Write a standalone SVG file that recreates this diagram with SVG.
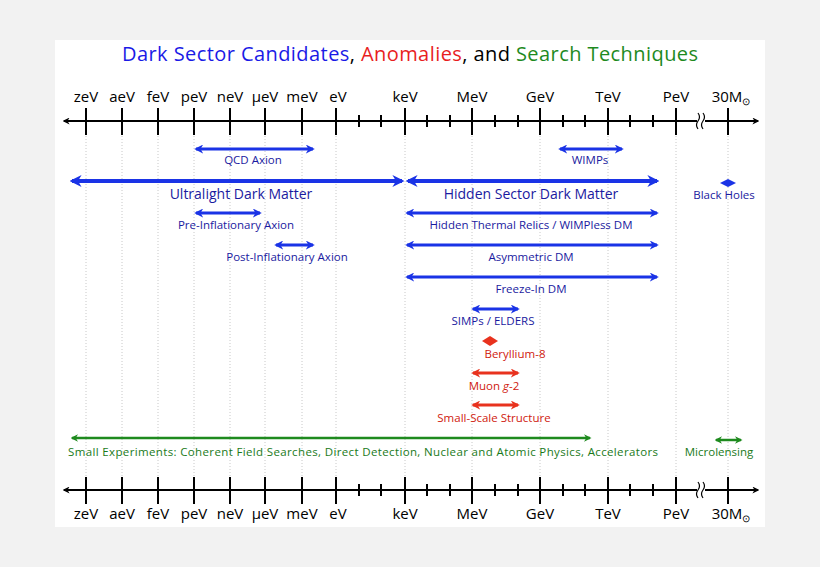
<svg xmlns="http://www.w3.org/2000/svg" width="820" height="567" viewBox="0 0 820 567">
<defs>
<marker id="ab" viewBox="0 0 10 10" refX="8" refY="5" markerWidth="3" markerHeight="3" orient="auto-start-reverse"><path d="M0,0L10,5L0,10L3,5z" fill="#1a33e6"/></marker>
<marker id="ar" viewBox="0 0 10 10" refX="8" refY="5" markerWidth="3" markerHeight="3" orient="auto-start-reverse"><path d="M0,0L10,5L0,10L3,5z" fill="#e8321e"/></marker>
<marker id="ag" viewBox="0 0 10 10" refX="8" refY="5" markerWidth="3" markerHeight="3" orient="auto-start-reverse"><path d="M0,0L10,5L0,10L3,5z" fill="#1e8a1e"/></marker>
<marker id="ak" viewBox="0 0 10 10" refX="8" refY="5" markerWidth="3.5" markerHeight="3.5" orient="auto-start-reverse"><path d="M0,0L10,5L0,10L3,5z" fill="#000"/></marker>
</defs>
<style>
text{font-family:"Open Sans","Liberation Sans",sans-serif}
.ax{font-size:15px;fill:#000;text-anchor:middle}
.lb{font-size:11.5px;fill:#1a1aa0;text-anchor:middle}
.big{font-size:14px}
.lr{font-size:11.5px;fill:#d0200e;text-anchor:middle}
.lg{font-size:11.5px;fill:#1a7a1a;text-anchor:middle}
.b{stroke:#1a33e6;stroke-width:3;marker-start:url(#ab);marker-end:url(#ab)}
.r{stroke:#e8321e;stroke-width:3;marker-start:url(#ar);marker-end:url(#ar)}
.g{stroke:#1e8a1e;stroke-width:2.5;marker-start:url(#ag);marker-end:url(#ag)}
.grid line{stroke:#c8c8c8;stroke-width:1;stroke-dasharray:1,2}
.axis line{stroke:#000;stroke-width:2}
</style>
<rect width="820" height="567" fill="#f2f2f2"/>
<rect x="55" y="40" width="710" height="487" fill="#fff"/>
<text x="410" y="61" text-anchor="middle" font-size="20" textLength="576" lengthAdjust="spacing"><tspan fill="#1a1ae6">Dark Sector Candidates</tspan><tspan fill="#000">, </tspan><tspan fill="#e81e1e">Anomalies</tspan><tspan fill="#000">, and </tspan><tspan fill="#1e8a1e">Search Techniques</tspan></text>
<g class="grid">
<line x1="86" y1="136" x2="86" y2="478"/><line x1="122" y1="136" x2="122" y2="478"/><line x1="158" y1="136" x2="158" y2="478"/><line x1="194" y1="136" x2="194" y2="478"/><line x1="230" y1="136" x2="230" y2="478"/><line x1="265" y1="136" x2="265" y2="478"/><line x1="302" y1="136" x2="302" y2="478"/><line x1="336" y1="136" x2="336" y2="478"/><line x1="405" y1="136" x2="405" y2="478"/><line x1="472" y1="136" x2="472" y2="478"/><line x1="540" y1="136" x2="540" y2="478"/><line x1="608" y1="136" x2="608" y2="478"/><line x1="676" y1="136" x2="676" y2="478"/><line x1="728" y1="136" x2="728" y2="478"/>
</g>
<g id="axis-top" class="axis">
<line x1="64" y1="121" x2="758" y2="121" marker-start="url(#ak)" marker-end="url(#ak)"/>
<g id="ticks-top">
<line x1="86" y1="108" x2="86" y2="135"/><line x1="122" y1="108" x2="122" y2="135"/><line x1="158" y1="108" x2="158" y2="135"/><line x1="194" y1="108" x2="194" y2="135"/><line x1="230" y1="108" x2="230" y2="135"/><line x1="265" y1="108" x2="265" y2="135"/><line x1="302" y1="108" x2="302" y2="135"/><line x1="336" y1="108" x2="336" y2="135"/><line x1="359" y1="115" x2="359" y2="127"/><line x1="381" y1="115" x2="381" y2="127"/><line x1="405" y1="108" x2="405" y2="135"/><line x1="427" y1="115" x2="427" y2="127"/><line x1="450" y1="115" x2="450" y2="127"/><line x1="472" y1="108" x2="472" y2="135"/><line x1="495" y1="115" x2="495" y2="127"/><line x1="518" y1="115" x2="518" y2="127"/><line x1="540" y1="108" x2="540" y2="135"/><line x1="563" y1="115" x2="563" y2="127"/><line x1="585" y1="115" x2="585" y2="127"/><line x1="608" y1="108" x2="608" y2="135"/><line x1="630" y1="115" x2="630" y2="127"/><line x1="653" y1="115" x2="653" y2="127"/><line x1="676" y1="108" x2="676" y2="135"/><line x1="728" y1="108" x2="728" y2="135"/>
</g>
<rect x="697" y="113" width="8" height="16" fill="#fff" stroke="none"/>
<path d="M698,113q3,4 0,8q-3,4 0,8M703,113q3,4 0,8q-3,4 0,8" fill="none" stroke="#000" stroke-width="1.2"/>
</g>
<g id="axis-bottom" class="axis">
<line x1="64" y1="490" x2="758" y2="490" marker-start="url(#ak)" marker-end="url(#ak)"/>
<g transform="translate(0,369)">
<line x1="86" y1="108" x2="86" y2="135"/><line x1="122" y1="108" x2="122" y2="135"/><line x1="158" y1="108" x2="158" y2="135"/><line x1="194" y1="108" x2="194" y2="135"/><line x1="230" y1="108" x2="230" y2="135"/><line x1="265" y1="108" x2="265" y2="135"/><line x1="302" y1="108" x2="302" y2="135"/><line x1="336" y1="108" x2="336" y2="135"/><line x1="359" y1="115" x2="359" y2="127"/><line x1="381" y1="115" x2="381" y2="127"/><line x1="405" y1="108" x2="405" y2="135"/><line x1="427" y1="115" x2="427" y2="127"/><line x1="450" y1="115" x2="450" y2="127"/><line x1="472" y1="108" x2="472" y2="135"/><line x1="495" y1="115" x2="495" y2="127"/><line x1="518" y1="115" x2="518" y2="127"/><line x1="540" y1="108" x2="540" y2="135"/><line x1="563" y1="115" x2="563" y2="127"/><line x1="585" y1="115" x2="585" y2="127"/><line x1="608" y1="108" x2="608" y2="135"/><line x1="630" y1="115" x2="630" y2="127"/><line x1="653" y1="115" x2="653" y2="127"/><line x1="676" y1="108" x2="676" y2="135"/><line x1="728" y1="108" x2="728" y2="135"/>
<rect x="697" y="113" width="8" height="16" fill="#fff" stroke="none"/>
<path d="M698,113q3,4 0,8q-3,4 0,8M703,113q3,4 0,8q-3,4 0,8" fill="none" stroke="#000" stroke-width="1.2"/>
</g>
</g>
<g id="labels-top">
<text class="ax" x="86" y="102">zeV</text><text class="ax" x="122" y="102">aeV</text><text class="ax" x="158" y="102">feV</text><text class="ax" x="194" y="102">peV</text><text class="ax" x="230" y="102">neV</text><text class="ax" x="265" y="102">μeV</text><text class="ax" x="302" y="102">meV</text><text class="ax" x="338" y="102">eV</text><text class="ax" x="405" y="102">keV</text><text class="ax" x="472" y="102">MeV</text><text class="ax" x="540" y="102">GeV</text><text class="ax" x="608" y="102">TeV</text><text class="ax" x="676" y="102">PeV</text><text class="ax" x="731" y="102">30M<tspan font-size="10" dy="3">⊙</tspan></text>
</g>
<g id="labels-bottom">
<text class="ax" x="86" y="519">zeV</text><text class="ax" x="122" y="519">aeV</text><text class="ax" x="158" y="519">feV</text><text class="ax" x="194" y="519">peV</text><text class="ax" x="230" y="519">neV</text><text class="ax" x="265" y="519">μeV</text><text class="ax" x="302" y="519">meV</text><text class="ax" x="338" y="519">eV</text><text class="ax" x="405" y="519">keV</text><text class="ax" x="472" y="519">MeV</text><text class="ax" x="540" y="519">GeV</text><text class="ax" x="608" y="519">TeV</text><text class="ax" x="676" y="519">PeV</text><text class="ax" x="731" y="519">30M<tspan font-size="10" dy="3">⊙</tspan></text>
</g>
<g id="connectors">
<line class="b" x1="196" y1="149" x2="313" y2="149"/>
<line class="b" x1="560" y1="149" x2="622" y2="149"/>
<line class="b" x1="72" y1="181" x2="402" y2="181" style="stroke-width:4"/>
<line class="b" x1="408" y1="181" x2="657" y2="181" style="stroke-width:4"/>
<line class="b" x1="196" y1="213" x2="260" y2="213"/>
<line class="b" x1="407" y1="213" x2="657" y2="213"/>
<line class="b" x1="276" y1="245" x2="313" y2="245"/>
<line class="b" x1="407" y1="245" x2="657" y2="245"/>
<line class="b" x1="407" y1="277" x2="657" y2="277"/>
<line class="b" x1="473" y1="309" x2="518" y2="309"/>
<line class="r" x1="473" y1="373" x2="518" y2="373"/>
<line class="r" x1="473" y1="405" x2="518" y2="405"/>
<line class="g" x1="72" y1="438" x2="590" y2="438"/>
<line class="g" x1="716" y1="440" x2="741" y2="440"/>
</g>
<g id="black-holes"><path d="M720,183l8,-4l8,4l-8,4z" fill="#1a33e6"/><text class="lb" x="724" y="199">Black Holes</text></g>
<g id="beryllium"><path d="M482,341l8,-5l8,5l-8,5z" fill="#e8321e"/><text class="lr" x="515" y="358">Beryllium-8</text></g>
<g id="n-labels">
<text class="lb" x="253" y="164">QCD Axion</text>
<text class="lb" x="590" y="164">WIMPs</text>
<text class="lb big" x="241" y="199">Ultralight Dark Matter</text>
<text class="lb big" x="531" y="199">Hidden Sector Dark Matter</text>
<text class="lb" x="236" y="229">Pre-Inflationary Axion</text>
<text class="lb" x="531" y="229">Hidden Thermal Relics / WIMPless DM</text>
<text class="lb" x="287" y="261">Post-Inflationary Axion</text>
<text class="lb" x="531" y="261">Asymmetric DM</text>
<text class="lb" x="531" y="293">Freeze-In DM</text>
<text class="lb" x="493" y="325">SIMPs / ELDERS</text>
<text class="lr" x="494" y="390">Muon <tspan font-style="italic">g</tspan>-2</text>
<text class="lr" x="494" y="422">Small-Scale Structure</text>
<text class="lg" x="363" y="456" textLength="590" lengthAdjust="spacing">Small Experiments: Coherent Field Searches, Direct Detection, Nuclear and Atomic Physics, Accelerators</text>
<text class="lg" x="719" y="456">Microlensing</text>
</g>
</svg>
